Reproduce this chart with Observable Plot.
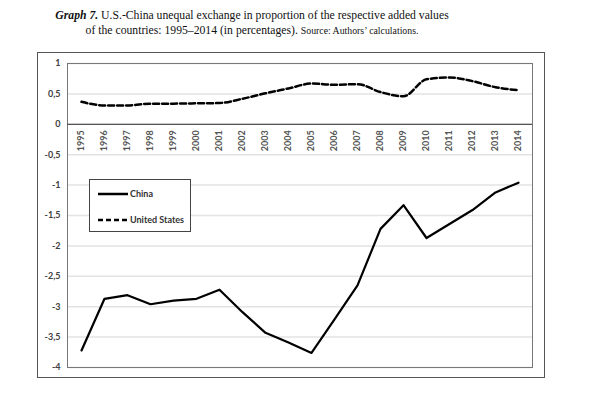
<!DOCTYPE html>
<html>
<head>
<meta charset="utf-8">
<script src="https://cdn.jsdelivr.net/npm/d3@7"></script>
<script src="https://cdn.jsdelivr.net/npm/@observablehq/plot@0.6"></script>
<style>
  body { margin: 0; background: #fff; }
  #wrap { position: relative; width: 602px; height: 397px; overflow: hidden; }
  #title { position: absolute; left: 0; top: 8px; width: 504px; text-align: center;
    font-family: "Liberation Serif", "Times New Roman", serif; font-size: 11.7px; line-height: 15px; color: #111; }
  #title .src { font-size: 9.8px; }
  #outer { position: absolute; left: 37px; top: 52px; width: 506px; height: 324px; border: 1px solid #555; }
  #chart { position: absolute; left: 0; top: 50px; }
  #legend { position: absolute; left: 89px; top: 179px; width: 100px; height: 51px; border: 1.5px solid #444; background: #fff;
    font-family: Lato, sans-serif; font-size: 9px; font-weight: bold; color: #333; }
  .row { position: absolute; left: 8px; display: flex; align-items: center; white-space: nowrap; }
  .row svg { display: block; margin-right: 2px; }
  #chart text { font-family: Lato, sans-serif; }
</style>
</head>
<body>
<div id="wrap">
  <div id="title"><b><i>Graph 7.</i></b> U.S.-China unequal exchange in proportion of the respective added values<br>of the countries: 1995–2014 (in percentages). <span class="src">Source: Authors’ calculations.</span></div>
  <div id="outer"></div>
  <div id="chart"></div>
  <div id="legend">
    <div class="row" style="top:8px"><svg width="30" height="6"><line x1="0" y1="3" x2="30" y2="3" stroke="#000" stroke-width="2.5"/></svg><span id="lg1"></span></div>
    <div class="row" style="top:34px"><svg width="30" height="6"><line x1="0" y1="3" x2="30" y2="3" stroke="#000" stroke-width="2.5" stroke-dasharray="5,3"/></svg><span id="lg2"></span></div>
  </div>
</div>
<script>
const years = [1995,1996,1997,1998,1999,2000,2001,2002,2003,2004,2005,2006,2007,2008,2009,2010,2011,2012,2013,2014];
const china = [-3.72,-2.87,-2.81,-2.96,-2.90,-2.87,-2.72,-3.09,-3.43,-3.59,-3.76,-3.21,-2.65,-1.72,-1.33,-1.87,-1.64,-1.41,-1.12,-0.96];
const usa   = [0.37,0.31,0.31,0.34,0.34,0.345,0.35,0.42,0.51,0.59,0.67,0.65,0.66,0.53,0.46,0.74,0.77,0.71,0.61,0.56];
const seriesNames = ["China", "United States"];
const yTicks = [-4,-3.5,-3,-2.5,-2,-1.5,-1,-0.5,0,0.5,1];

const chinaData = years.map((y, i) => ({year: y, value: china[i]}));
const usaData = years.map((y, i) => ({year: y, value: usa[i]}));

document.getElementById("lg1").textContent = seriesNames[0];
document.getElementById("lg2").textContent = seriesNames[1];

const fmt = d => String(d).replace(".", ",");

const chart = Plot.plot({
  width: 602,
  height: 330,
  marginTop: 13,
  marginBottom: 13,
  marginLeft: 67,
  marginRight: 70,
  x: {type: "point", domain: years, padding: 0.5, axis: null},
  y: {domain: [-4, 1], axis: null},
  marks: [
    Plot.ruleY(yTicks, {stroke: "#e3e3e3", strokeWidth: 1.5}),
    Plot.frame({stroke: "#777"}),
    Plot.ruleY([0], {stroke: "#555", strokeWidth: 1.2}),
    Plot.text(yTicks, {x: () => years[0], y: d => d, text: fmt, textAnchor: "end", dx: -21,
      fontSize: 9, fontWeight: "bold", fill: "#404040"}),
    Plot.text(years, {x: d => d, y: () => 0, text: d => String(d), rotate: -90, textAnchor: "end", lineAnchor: "middle",
      dy: 6, fontSize: 9, fontWeight: "bold", fill: "#555"}),
    Plot.line(chinaData, {x: "year", y: "value", stroke: "#000", strokeWidth: 2.2}),
    Plot.line(usaData, {x: "year", y: "value", stroke: "#000", strokeWidth: 2.5, strokeDasharray: "6,3", curve: "monotone-x"})
  ]
});
document.getElementById("chart").appendChild(chart);
</script>
</body>
</html>
